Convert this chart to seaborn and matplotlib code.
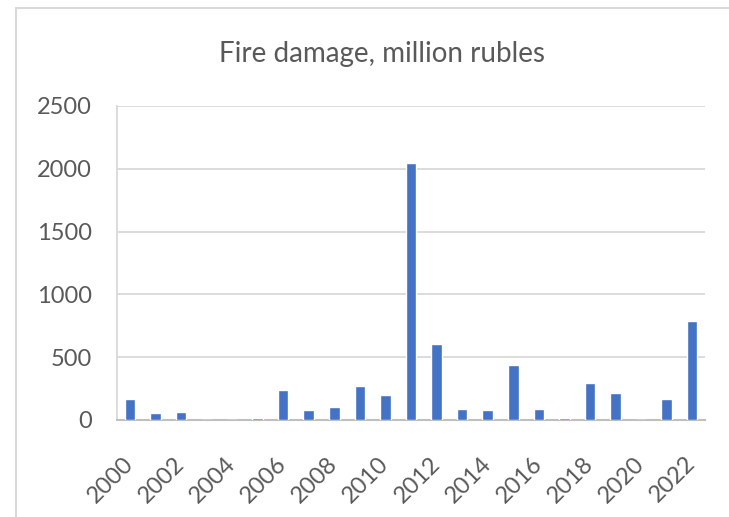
import matplotlib
matplotlib.use("Agg")
import matplotlib.pyplot as plt
from matplotlib.patches import Rectangle
import seaborn as sns
import pandas as pd

years = [str(y) for y in range(2000, 2023)]
damage = [165, 53, 66, 0, 0, 18, 235, 77, 100, 270, 198, 2050,
          605, 89, 78, 435, 89, 19, 296, 212, 0, 164, 790]
y_ticks = [0, 500, 1000, 1500, 2000, 2500]
title = "Fire damage, million rubles"

sns.set_theme(style="white")
plt.rcParams["font.family"] = ["Lato", "DejaVu Sans"]

df = pd.DataFrame({"year": years, "damage": damage})

fig = plt.figure(figsize=(7.29, 5.17), dpi=100)
fig.patch.set_facecolor("white")
ax = fig.add_axes([117 / 729, 1 - 420 / 517, (705 - 117) / 729, (420 - 106) / 517])

sns.barplot(data=df, x="year", y="damage", color="#4472C4", saturation=1,
            width=0.41, ax=ax, zorder=3)

ax.set_ylim(0, 2500)
ax.set_yticks(y_ticks)
ax.set_xlim(-0.5, len(years) - 0.5)
ax.yaxis.grid(True, color="#D9D9D9", linewidth=1.3, zorder=0)
ax.set_xlabel("")
ax.set_ylabel("")

for side in ["top", "right"]:
    ax.spines[side].set_visible(False)
ax.spines["left"].set_color("#D9D9D9")
ax.spines["left"].set_linewidth(1.3)
ax.spines["bottom"].set_color("#BFBFBF")
ax.spines["bottom"].set_linewidth(1.5)

ax.set_xticks(range(len(years)))
ax.set_xticklabels([y if i % 2 == 0 else "" for i, y in enumerate(years)],
                   rotation=45, ha="right", va="center", rotation_mode="anchor")
ax.tick_params(axis="x", length=0, pad=29, labelsize=17, labelcolor="#595959")
ax.tick_params(axis="y", length=0, pad=18, labelsize=17, labelcolor="#595959")

fig.text(0.524, 1 - 54 / 517, title, ha="center", va="center",
         fontsize=20, color="#595959")

# outer chart frame
fig.patches.append(Rectangle((16 / 729, -0.05), 1.2, 1 - 8 / 517 + 0.05,
                             transform=fig.transFigure, fill=False,
                             edgecolor="#D9D9D9", linewidth=1.5, zorder=0))

fig.savefig("out.png", dpi=100)
